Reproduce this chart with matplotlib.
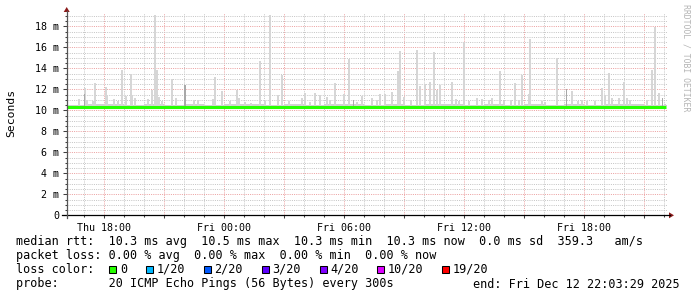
import matplotlib
matplotlib.use("Agg")
import matplotlib.pyplot as plt
from matplotlib.patches import Polygon, Rectangle
from matplotlib.lines import Line2D
from matplotlib.ticker import MultipleLocator, FixedLocator
import numpy as np

# ---------------- data ----------------
x_tick_hours = [18, 24, 30, 36, 42]            # hours since Thu 00:00
x_tick_labels = ["Thu 18:00", "Fri 00:00", "Fri 06:00", "Fri 12:00", "Fri 18:00"]
y_tick_values = [0, 2, 4, 6, 8, 10, 12, 14, 16, 18]
y_tick_labels = ["0", "2 m", "4 m", "6 m", "8 m", "10 m", "12 m", "14 m", "16 m", "18 m"]

median_hours = [16.05, 17, 18, 19, 20, 21, 22, 23, 24, 25, 26, 27, 28, 29, 30, 31,
                32, 33, 34, 35, 36, 37, 38, 39, 40, 41, 42, 43, 44, 45, 46, 46.06]
median_ms = [10.30, 10.32, 10.30, 10.28, 10.30, 10.31, 10.29, 10.30, 10.33, 10.30,
             10.29, 10.31, 10.30, 10.28, 10.30, 10.32, 10.30, 10.30, 10.29, 10.31,
             10.30, 10.30, 10.28, 10.30, 10.31, 10.30, 10.29, 10.30, 10.32, 10.30,
             10.30, 10.30]
smoke_upper_ms = [10.55, 10.58, 10.56, 10.55, 10.57, 10.55, 10.56, 10.54, 10.58, 10.56,
                  10.55, 10.57, 10.55, 10.56, 10.58, 10.55, 10.56, 10.55, 10.57, 10.56,
                  10.55, 10.56, 10.55, 10.57, 10.55, 10.56, 10.55, 10.56, 10.57, 10.55,
                  10.58, 10.58]

spike_hours = [16.67, 16.99, 17.09, 17.39, 17.50, 18.03, 18.11, 18.44, 18.64, 18.84,
               19.01, 19.29, 19.36, 19.49, 20.16, 20.34, 20.50, 20.61, 20.69, 20.84,
               21.34, 21.56, 22.44, 22.64, 23.39, 23.50, 23.84, 24.24, 24.59, 24.69,
               24.99, 25.29, 25.75, 25.99, 26.25, 26.66, 26.85, 27.19, 27.84, 27.99,
               28.24, 28.50, 28.74, 29.09, 29.24, 29.50, 29.94, 30.19, 30.59, 30.86,
               31.34, 31.59, 31.75, 31.99, 32.34, 32.66, 32.75, 32.94, 33.29, 33.59,
               33.75, 33.99, 34.25, 34.42, 34.59, 34.75, 35.35, 35.54, 35.69, 35.95,
               36.19, 36.59, 36.84, 37.19, 37.34, 37.75, 37.94, 38.29, 38.49, 38.67,
               38.84, 39.17, 39.25, 39.84, 39.99, 40.59, 41.34, 41.64, 41.84, 42.09,
               42.49, 42.84, 43.00, 43.17, 43.34, 43.67, 43.95, 44.09, 44.24, 45.09,
               45.34, 45.51, 45.67]
spike_top_ms = [11.05, 12.1, 11.0, 10.9, 12.6, 12.2, 11.5, 11.1, 10.9, 13.8,
                11.4, 13.5, 11.5, 11.2, 11.1, 11.9, 19.1, 13.8, 11.3, 10.9,
                13.0, 11.2, 11.0, 11.0, 11.1, 13.2, 11.8, 10.9, 11.9, 11.2,
                10.8, 10.7, 14.65, 10.9, 19.1, 11.5, 13.35, 10.9, 11.2, 11.6,
                10.8, 11.6, 11.5, 11.3, 11.0, 12.6, 11.6, 14.9, 10.8, 11.4,
                11.2, 11.0, 11.6, 11.6, 11.75, 13.7, 15.65, 11.3, 11.0, 15.7,
                12.3, 12.5, 12.7, 15.6, 11.9, 12.4, 12.7, 11.1, 10.9, 16.5,
                10.9, 11.2, 11.1, 11.0, 11.2, 13.7, 10.9, 11.0, 12.6, 11.0,
                13.35, 11.6, 16.8, 10.9, 10.8, 15.0, 11.8, 10.9, 11.0, 10.9,
                10.9, 12.1, 11.5, 13.6, 11.2, 11.2, 12.7, 11.2, 11.0, 11.0,
                13.8, 17.95, 11.6]
dark_hours = [16.99, 22.00, 30.44, 41.09, 45.89]
dark_top_ms = [11.6, 12.4, 11.0, 12.0, 11.2]

loss_labels = ["0", "1/20", "2/20", "3/20", "4/20", "10/20", "19/20"]
loss_colors = ["#26ff00", "#00b8ff", "#0059ff", "#5e00ff", "#7e00ff", "#dd00ff", "#ff0000"]

line_rtt = "median rtt:  10.3 ms avg  10.5 ms max  10.3 ms min  10.3 ms now  0.0 ms sd  359.3   am/s"
line_loss = "packet loss: 0.00 % avg  0.00 % max  0.00 % min  0.00 % now"
line_probe = "probe:       20 ICMP Echo Pings (56 Bytes) every 300s"
line_end = "end: Fri Dec 12 22:03:29 2025"
loss_title = "loss color:"
y_label = "Seconds"
watermark = "RRDTOOL / TOBI OETIKER"

# ---------------- layout ----------------
W, H, DPI = 697, 297, 100
MONO = "DejaVu Sans Mono"
plt.rcParams["font.family"] = MONO

def fx(px):
    return px / W

def fy(py):
    return 1 - py / H

X0, X1 = 66.7, 667.0      # plot area pixels
Y0, Y1 = 215.3, 13.3
PX_PER_H = 20.0
h_left = 18 + (X0 - 104.3) / PX_PER_H
h_right = 18 + (X1 - 104.3) / PX_PER_H

fig = plt.figure(figsize=(W / DPI, H / DPI), dpi=DPI, facecolor="white")
ax = fig.add_axes([fx(X0), fy(Y0), (X1 - X0) / W, (Y0 - Y1) / H])
ax.set_facecolor("white")
ax.set_xlim(h_left, h_right)
ax.set_ylim(0, (Y0 - Y1) / 10.5)

# grid
ax.xaxis.set_major_locator(MultipleLocator(3))
ax.xaxis.set_minor_locator(MultipleLocator(1))
ax.yaxis.set_major_locator(FixedLocator(y_tick_values))
ax.yaxis.set_minor_locator(MultipleLocator(0.5))
ax.grid(which="minor", color="#c6c6c6", linestyle=(0, (1, 1.2)), linewidth=0.72)
ax.grid(which="major", color="#eca2a2", linestyle=(0, (1, 1.2)), linewidth=0.72)
ax.set_axisbelow(True)

# smoke
ax.fill_between(median_hours, median_ms, smoke_upper_ms, step="post",
                color="#d2d2d2", linewidth=0, zorder=2)
base = np.interp(spike_hours, median_hours, median_ms)
ax.bar(spike_hours, np.array(spike_top_ms) - base, bottom=base, width=1 / 10,
       color="#d6d6d6", linewidth=0, align="edge", zorder=2, antialiased=False)
dbase = np.interp(dark_hours, median_hours, median_ms)
ax.bar(dark_hours, np.array(dark_top_ms) - dbase, bottom=dbase, width=1 / 15,
       color="#a8a8a8", linewidth=0, align="edge", zorder=2.5, antialiased=False)
# median
ax.step(median_hours, median_ms, where="post", color="#26ff00", linewidth=2.2,
        zorder=3, solid_capstyle="butt")

# ticks
ax.set_xticks(np.arange(18, 46, 3))
ax.set_xticklabels([x_tick_labels[x_tick_hours.index(h)] if h in x_tick_hours else ""
                    for h in np.arange(18, 46, 3)])
ax.set_yticklabels(y_tick_labels)
ax.tick_params(axis="both", which="both", direction="out", colors="#404040",
               labelcolor="black", labelsize=7.2, width=0.75)
ax.tick_params(axis="y", which="major", length=3, pad=2.5)
ax.tick_params(axis="y", which="minor", length=1.5)
ax.tick_params(axis="x", which="major", length=2.5, pad=3)
ax.tick_params(axis="x", which="minor", length=1.5)
for s in ax.spines.values():
    s.set_visible(False)

# axes lines and arrows
fig.add_artist(Line2D([fx(62), fx(670)], [fy(Y0), fy(Y0)], color="black", lw=0.9))
fig.add_artist(Line2D([fx(X0), fx(X0)], [fy(Y0 + 3), fy(11)], color="#555555", lw=0.9))
fig.add_artist(Polygon([[fx(669), fy(Y0 - 3)], [fx(669), fy(Y0 + 3)], [fx(674), fy(Y0)]],
                       closed=True, color="#8b1a1a", lw=0))
fig.add_artist(Polygon([[fx(X0 - 3), fy(12)], [fx(X0 + 3), fy(12)], [fx(X0), fy(7)]],
                       closed=True, color="#8b1a1a", lw=0))

# y label and watermark
fig.text(fx(11), fy(113), y_label, rotation=90, ha="center", va="center",
         fontsize=8.2, color="black")
fig.text(fx(686), fy(4), watermark, rotation=270, ha="center", va="top",
         fontsize=5.9, color="#b4b4b4")

# legend text
FS = 8.5
CW = 7.1
LX = 16
fig.text(fx(LX), fy(241), line_rtt, ha="left", va="center", fontsize=FS, color="black")
fig.text(fx(LX), fy(255.5), line_loss, ha="left", va="center", fontsize=FS, color="black")
fig.text(fx(LX), fy(269.5), loss_title, ha="left", va="center", fontsize=FS, color="black")
fig.text(fx(LX), fy(284), line_probe, ha="left", va="center", fontsize=FS, color="black")
fig.text(fx(680), fy(284), line_end, ha="right", va="center", fontsize=FS, color="black")

sx = 109.3
for lab, colr in zip(loss_labels, loss_colors):
    fig.add_artist(Rectangle((fx(sx), fy(273.0)), 7 / W, 7 / H, facecolor=colr,
                             edgecolor="black", linewidth=0.75))
    fig.text(fx(sx + 10.5), fy(269.5), lab, ha="left", va="center",
             fontsize=FS, color="black")
    sx += 10.5 + len(lab) * CW + 19

fig.savefig("out.png", dpi=DPI, facecolor="white")
